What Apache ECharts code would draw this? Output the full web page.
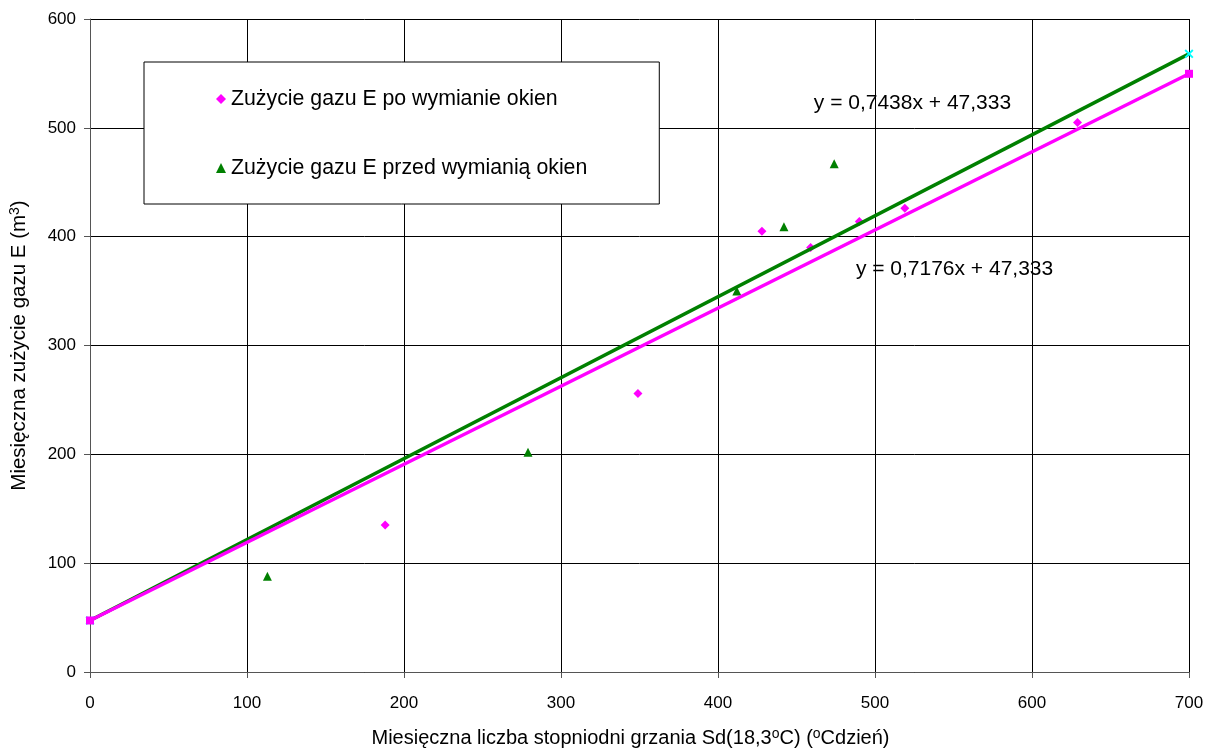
<!DOCTYPE html>
<html>
<head>
<meta charset="utf-8">
<script src="https://cdn.jsdelivr.net/npm/echarts@6/dist/echarts.min.js"></script>
<style>
html,body{margin:0;padding:0;background:#fff;}
#chart{width:1209px;height:753px;}
</style>
</head>
<body>
<div id="chart"></div>
<script>
// Data
var seriesAfterName = 'Zużycie gazu E po wymianie okien';
var seriesBeforeName = 'Zużycie gazu E przed wymianią okien';
var afterPoints = [[188,135],[349,256],[428,405],[459,390],[490,414],[519,426],[629,505]];
var beforePoints = [[113,88],[279,202],[412,350],[442,409],[474,467]];
// Trend line end points (from the equations shown on the chart)
var trendBefore = [[0,47.333],[700,568.0]];
var trendAfter = [[0,47.333],[700,549.65]];
var eqBefore = 'y = 0,7438x + 47,333';
var eqAfter = 'y = 0,7176x + 47,333';
var xTicks = [0,100,200,300,400,500,600,700];
var yTicks = [0,100,200,300,400,500,600];

var FONT = '"Liberation Sans", Arial, sans-serif';
var xPath = 'path://M0,1.5L1.5,0L5,3.5L8.5,0L10,1.5L6.5,5L10,8.5L8.5,10L5,6.5L1.5,10L0,8.5L3.5,5Z';

var chart = echarts.init(document.getElementById('chart'));
chart.setOption({
  animation: false,
  textStyle: {fontFamily: FONT},
  grid: {left: 89, right: 20, top: 19, bottom: 78, containLabel: false},
  legend: {
    data: [seriesAfterName, seriesBeforeName],
    orient: 'vertical',
    left: 144, top: 62,
    padding: [25, 72, 24, 72],
    itemGap: 45,
    itemWidth: 10, itemHeight: 10,
    backgroundColor: '#fff',
    borderColor: '#000', borderWidth: 1,
    textStyle: {fontSize: 21.3, lineHeight: 24, color: '#000', fontFamily: FONT}
  },
  xAxis: {
    type: 'value', min: xTicks[0], max: xTicks[xTicks.length-1], interval: 100,
    name: 'Miesięczna liczba stopniodni grzania Sd(18,3{sup|o}C) ({sup|o}Cdzień)',
    nameLocation: 'middle', nameGap: 55,
    nameTextStyle: {fontSize: 20, color: '#000', fontFamily: FONT, padding: [0, 18, 0, 0],
      rich: {sup: {fontSize: 14, verticalAlign: 'top', padding:[0,0,8,0], color:'#000', fontFamily: FONT}}},
    axisLine: {show: true, lineStyle: {color: '#555', width: 1}},
    axisTick: {show: true, length: 6, lineStyle: {color: '#555'}},
    axisLabel: {fontSize: 17, color: '#000', margin: 23, fontFamily: FONT},
    splitLine: {show: true, lineStyle: {color: '#000', width: 1}}
  },
  yAxis: {
    type: 'value', min: yTicks[0], max: yTicks[yTicks.length-1], interval: 100,
    name: 'Miesięczna zużycie gazu E (m{sup|3})',
    nameLocation: 'middle', nameGap: 60,
    nameTextStyle: {fontSize: 20.5, color: '#000', fontFamily: FONT,
      rich: {sup: {fontSize: 14, verticalAlign: 'top', padding:[0,0,8,0], color:'#000', fontFamily: FONT}}},
    axisLine: {show: true, lineStyle: {color: '#555', width: 1}},
    axisTick: {show: true, length: 6, lineStyle: {color: '#555'}},
    axisLabel: {fontSize: 17, color: '#000', margin: 14, fontFamily: FONT},
    splitLine: {show: true, lineStyle: {color: '#000', width: 1}}
  },
  series: [
    {
      name: seriesAfterName, type: 'scatter', data: afterPoints,
      symbol: 'diamond', symbolSize: 9, itemStyle: {color: '#FF00FF', opacity: 1}, z: 2
    },
    {
      name: seriesBeforeName, type: 'scatter', data: beforePoints,
      symbol: 'triangle', symbolSize: 9, itemStyle: {color: '#008000', opacity: 1}, z: 2
    },
    {
      name: 'trendBefore', type: 'line', data: trendBefore,
      symbol: xPath, symbolSize: 9, showSymbol: true,
      lineStyle: {color: '#008000', width: 3.5},
      itemStyle: {color: '#00FFFF', borderWidth: 0}, z: 3,
      markPoint: {
        symbol: 'circle', symbolSize: 1, itemStyle: {color: 'rgba(0,0,0,0)'},
        label: {show: true, position: 'right', distance: 0, color: '#000', fontSize: 21, fontFamily: FONT,
          formatter: function(){return eqBefore;}},
        data: [{coord: [460.7, 523]}]
      }
    },
    {
      name: 'trendAfter', type: 'line', data: trendAfter,
      symbol: 'rect', symbolSize: 8, showSymbol: true,
      lineStyle: {color: '#FF00FF', width: 3.5},
      itemStyle: {color: '#FF00FF', borderWidth: 0}, z: 4,
      markPoint: {
        symbol: 'circle', symbolSize: 1, itemStyle: {color: 'rgba(0,0,0,0)'},
        label: {show: true, position: 'right', distance: 0, color: '#000', fontSize: 21, fontFamily: FONT,
          formatter: function(){return eqAfter;}},
        data: [{coord: [487.5, 370.4]}]
      }
    }
  ]
});
</script>
</body>
</html>
